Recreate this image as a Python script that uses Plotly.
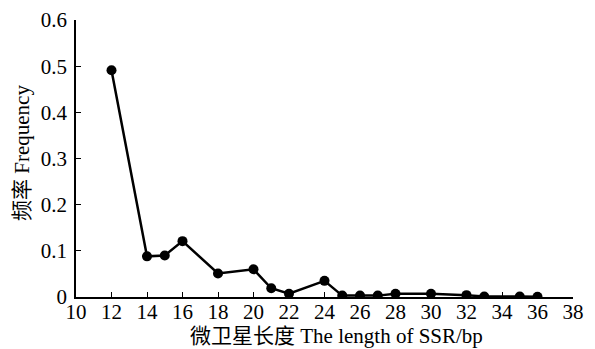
import plotly.graph_objects as go

lengths = [12, 14, 15, 16, 18, 20, 21, 22, 24, 25, 26, 27, 28, 30, 32, 33, 35, 36]
frequency = [0.491, 0.088, 0.090, 0.121, 0.051, 0.060, 0.019, 0.007, 0.035, 0.003, 0.003, 0.003, 0.007, 0.007, 0.004, 0.001, 0.001, 0.0005]

x_ticks = list(range(10, 40, 2))
y_ticks = [0, 0.1, 0.2, 0.3, 0.4, 0.5, 0.6]
y_tick_labels = ["0", "0.1", "0.2", "0.3", "0.4", "0.5", "0.6"]
x_title = "微卫星长度 The length of SSR/bp"
y_title = "频率 Frequency"

font_family = "Liberation Serif, Times New Roman, Noto Sans CJK SC, serif"

fig = go.Figure()
fig.add_trace(go.Scatter(
    x=lengths, y=frequency, mode="lines+markers",
    line=dict(color="black", width=2.5),
    marker=dict(color="black", size=10),
    showlegend=False,
))

# page body has an 8px default margin, so the figure is sized/offset accordingly
fig.update_layout(
    width=587, height=341,
    margin=dict(l=68, r=22, t=12, b=52),
    paper_bgcolor="white", plot_bgcolor="white",
    font=dict(family=font_family, size=21, color="black"),
    xaxis=dict(
        range=[10, 38], tickvals=x_ticks, ticks="inside", ticklen=5,
        tickcolor="black", tickwidth=1.2, automargin=False,
        showline=True, linecolor="black", linewidth=1.5,
        showgrid=False, zeroline=False, ticklabelstandoff=-5,
    ),
    yaxis=dict(
        range=[0, 0.6], tickvals=y_ticks, ticktext=y_tick_labels,
        ticks="inside", ticklen=5, tickcolor="black", tickwidth=1.2,
        automargin=False, ticklabelstandoff=3,
        showline=True, linecolor="black", linewidth=1.5,
        showgrid=False, zeroline=False,
    ),
    annotations=[
        dict(text=x_title, xref="paper", yref="paper", x=0.525, y=0,
             xanchor="center", yanchor="middle", yshift=-39, showarrow=False,
             font=dict(size=21)),
        dict(text=y_title, xref="paper", yref="paper", x=0, y=0.52,
             xanchor="center", yanchor="middle", xshift=-54, textangle=-90,
             showarrow=False, font=dict(size=21)),
    ],
)

fig.write_html("out.html")
